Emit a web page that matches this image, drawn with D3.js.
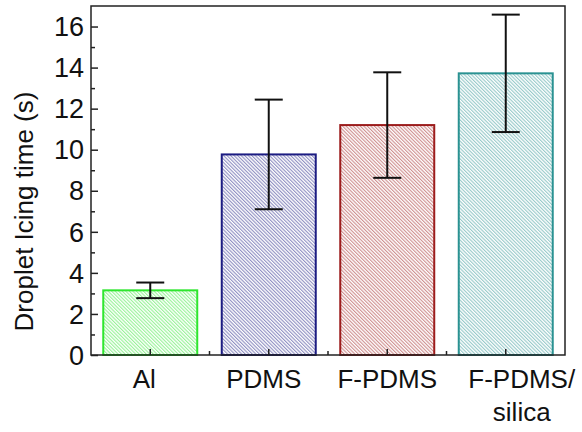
<!DOCTYPE html>
<html>
<head>
<meta charset="utf-8">
<script src="https://cdn.jsdelivr.net/npm/d3@7"></script>
<style>
  html, body { margin: 0; padding: 0; background: #fff; }
  svg { display: block; font-family: 'Liberation Sans', Arial, sans-serif; }
</style>
</head>
<body>
<div id="chart"></div>
<script>
// values
const categories = ['Al', 'PDMS', 'F-PDMS', 'F-PDMS/silica'];
const labelLines = [['Al'], ['PDMS'], ['F-PDMS'], ['F-PDMS/', 'silica']];
const means = [3.15, 9.77, 11.2, 13.72];
const errors = [0.38, 2.67, 2.57, 2.86];
const edgeColors = ['#2ee62e', '#1c1c82', '#9c1c1c', '#2a9292'];
const yTicks = [0, 2, 4, 6, 8, 10, 12, 14, 16];

const width = 582, height = 432;
const margin = { left: 91, top: 6, right: 17, bottom: 77 };
const labelShift = [-6, -5, 0, 16]; // labels in the original sit a bit off centre

const svg = d3.select('#chart').append('svg')
  .attr('width', width)
  .attr('height', height);

const defs = svg.append('defs');
edgeColors.forEach((c, i) => {
  const p = defs.append('pattern')
    .attr('id', 'hatch' + i)
    .attr('patternUnits', 'userSpaceOnUse')
    .attr('width', 2.5)
    .attr('height', 10)
    .attr('patternTransform', 'rotate(-45)');
  p.append('line')
    .attr('x1', 0.6).attr('y1', 0)
    .attr('x2', 0.6).attr('y2', 10)
    .attr('stroke', c)
    .attr('stroke-opacity', 0.55)
    .attr('stroke-width', 1);
});

const x = d3.scaleBand()
  .domain(categories)
  .range([margin.left, width - margin.right])
  .paddingInner(0.19)
  .paddingOuter(0.095);

const y = d3.scaleLinear()
  .domain([0, 17])
  .range([height - margin.bottom, margin.top]);

// bars
svg.append('g')
  .selectAll('rect')
  .data(categories)
  .join('rect')
  .attr('x', d => x(d) + 1)
  .attr('y', (d, i) => y(means[i]))
  .attr('width', x.bandwidth() - 2)
  .attr('height', (d, i) => y(0) - y(means[i]))
  .attr('fill', (d, i) => `url(#hatch${i})`)
  .attr('stroke', (d, i) => edgeColors[i])
  .attr('stroke-width', 2);

// error bars
const eb = svg.append('g')
  .attr('stroke', '#111')
  .attr('stroke-width', 2)
  .selectAll('g')
  .data(categories)
  .join('g')
  .attr('transform', d => `translate(${x(d) + x.bandwidth() / 2},0)`);
eb.append('line')
  .attr('y1', (d, i) => y(means[i] - errors[i]))
  .attr('y2', (d, i) => y(means[i] + errors[i]));
eb.append('line')
  .attr('x1', -14).attr('x2', 14)
  .attr('y1', (d, i) => y(means[i] + errors[i]))
  .attr('y2', (d, i) => y(means[i] + errors[i]));
eb.append('line')
  .attr('x1', -14).attr('x2', 14)
  .attr('y1', (d, i) => y(means[i] - errors[i]))
  .attr('y2', (d, i) => y(means[i] - errors[i]));

// frame
svg.append('rect')
  .attr('x', margin.left)
  .attr('y', margin.top)
  .attr('width', width - margin.left - margin.right)
  .attr('height', height - margin.top - margin.bottom)
  .attr('fill', 'none')
  .attr('stroke', '#222')
  .attr('stroke-width', 1.5);

// y axis, ticks inside
const yAxis = svg.append('g')
  .attr('transform', `translate(${margin.left},0)`)
  .call(d3.axisRight(y).tickValues(yTicks).tickSize(7).tickFormat(''));
yAxis.select('.domain').remove();
yAxis.selectAll('line').attr('stroke', '#222').attr('stroke-width', 1.5);
svg.append('g')
  .attr('transform', `translate(${margin.left},0)`)
  .call(d3.axisRight(y).tickValues(d3.range(1, 17, 2)).tickSize(4).tickFormat(''))
  .call(g => g.select('.domain').remove())
  .selectAll('line').attr('stroke', '#222').attr('stroke-width', 1.5);

svg.append('g')
  .selectAll('text')
  .data(yTicks)
  .join('text')
  .attr('x', margin.left - 7)
  .attr('y', d => y(d))
  .attr('dy', '0.36em')
  .attr('text-anchor', 'end')
  .attr('font-size', 27)
  .attr('fill', '#111')
  .text(d => d);

// x axis ticks, inside
const xb = height - margin.bottom;
svg.append('g')
  .attr('transform', `translate(0,${xb})`)
  .call(d3.axisTop(x).tickSize(6).tickFormat(''))
  .call(g => g.select('.domain').remove())
  .selectAll('line').attr('stroke', '#222').attr('stroke-width', 1.5);
const step = x.step();
const minorX = categories.slice(1).map(d => x(d) - step * x.paddingInner() / 2);
svg.append('g')
  .selectAll('line')
  .data(minorX)
  .join('line')
  .attr('x1', d => d).attr('x2', d => d)
  .attr('y1', xb).attr('y2', xb - 4)
  .attr('stroke', '#222').attr('stroke-width', 1.5);

// x labels
svg.append('g')
  .selectAll('text')
  .data(categories)
  .join('text')
  .attr('x', (d, i) => x(d) + x.bandwidth() / 2 + labelShift[i])
  .attr('y', xb + 33)
  .attr('text-anchor', 'middle')
  .attr('font-size', 26)
  .attr('fill', '#111')
  .selectAll('tspan')
  .data((d, i) => labelLines[i].map(t => ({ t, cx: x(d) + x.bandwidth() / 2 + labelShift[i] })))
  .join('tspan')
  .attr('x', d => d.cx)
  .attr('dy', (d, j) => j === 0 ? 0 : 33)
  .text(d => d.t);

// y title
svg.append('text')
  .attr('transform', `translate(33,${(margin.top + xb) / 2 + 31}) rotate(-90)`)
  .attr('text-anchor', 'middle')
  .attr('font-size', 26)
  .attr('fill', '#111')
  .text('Droplet Icing time (s)');
</script>
</body>
</html>
